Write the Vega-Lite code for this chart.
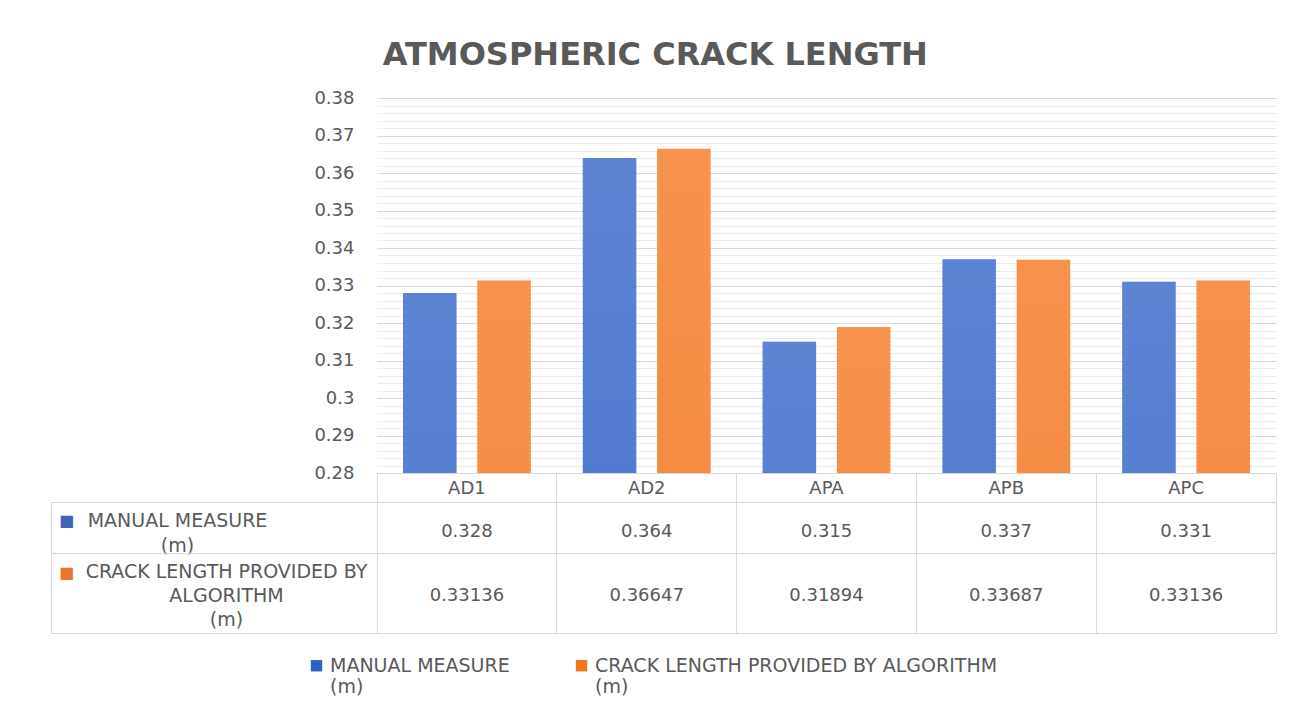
{
  "$schema": "https://vega.github.io/schema/vega-lite/v6.json",
  "padding": {"left": 50, "top": 39, "right": 30, "bottom": 5},
  "title": {
    "text": "ATMOSPHERIC CRACK LENGTH",
    "anchor": "middle",
    "frame": "bounds",
    "font": "DejaVu Sans",
    "fontSize": 32,
    "fontWeight": "bold",
    "color": "#595959",
    "offset": 17,
    "dx": -8
  },
  "data": {
    "values": [
      {"sample": "AD1", "series": "MANUAL MEASURE (m)", "value": 0.328},
      {"sample": "AD2", "series": "MANUAL MEASURE (m)", "value": 0.364},
      {"sample": "APA", "series": "MANUAL MEASURE (m)", "value": 0.315},
      {"sample": "APB", "series": "MANUAL MEASURE (m)", "value": 0.337},
      {"sample": "APC", "series": "MANUAL MEASURE (m)", "value": 0.331},
      {"sample": "AD1", "series": "CRACK LENGTH PROVIDED BY ALGORITHM (m)", "value": 0.33136},
      {"sample": "AD2", "series": "CRACK LENGTH PROVIDED BY ALGORITHM (m)", "value": 0.36647},
      {"sample": "APA", "series": "CRACK LENGTH PROVIDED BY ALGORITHM (m)", "value": 0.31894},
      {"sample": "APB", "series": "CRACK LENGTH PROVIDED BY ALGORITHM (m)", "value": 0.33687},
      {"sample": "APC", "series": "CRACK LENGTH PROVIDED BY ALGORITHM (m)", "value": 0.33136}
    ]
  },
  "bounds": "flush",
  "spacing": 29,
  "vconcat": [
    {
      "width": 899,
      "height": 375,
      "encoding": {
        "x": {
          "field": "sample", "type": "nominal",
          "scale": {"paddingInner": 0, "paddingOuter": 0},
          "axis": {
            "title": null, "domain": false, "labelAngle": 0,
            "ticks": true, "tickSize": 29, "tickColor": "#d9d9d9", "bandPosition": 1, "tickExtra": true,
            "labelExpr": "isValid(datum.extra) ? '' : datum.label",
            "labelBaseline": "middle", "labelPadding": -14,
            "labelFont": "DejaVu Sans", "labelFontSize": 18, "labelColor": "#595959"
          }
        },
        "xOffset": {
          "field": "series", "type": "nominal",
          "sort": ["MANUAL MEASURE (m)", "CRACK LENGTH PROVIDED BY ALGORITHM (m)"],
          "scale": {"paddingInner": 0.28, "paddingOuter": 0.35}
        },
        "y": {
          "field": "value", "type": "quantitative",
          "scale": {"domain": [0.28, 0.38], "nice": false, "zero": false},
          "axis": {
            "title": null, "domain": false, "ticks": false, "tickCount": 50,
            "labelOverlap": false, "labelBound": false,
            "labelExpr": "abs(datum.value*100 - round(datum.value*100)) < 0.000001 ? toString(round(datum.value*100)/100) : ''",
            "labelPadding": 23, "labelFont": "DejaVu Sans", "labelFontSize": 18, "labelColor": "#595959",
            "grid": true,
            "gridColor": {"condition": {"test": "abs(datum.value*100 - round(datum.value*100)) < 0.000001", "value": "#d9d9d9"}, "value": "#ebebeb"}
          }
        }
      },
      "layer": [
        {
          "mark": {"type": "bar", "clip": true},
          "encoding": {
            "color": {
              "field": "series", "type": "nominal",
              "sort": ["MANUAL MEASURE (m)", "CRACK LENGTH PROVIDED BY ALGORITHM (m)"],
              "scale": {
                "domain": ["MANUAL MEASURE (m)", "CRACK LENGTH PROVIDED BY ALGORITHM (m)"],
                "range": ["#2f60c6", "#f4741c"]
              },
              "legend": {
                "orient": "none", "legendX": -70, "legendY": 558,
                "direction": "horizontal", "title": null,
                "symbolType": "square", "symbolSize": 130, "symbolStrokeWidth": 0,
                "labelExpr": "datum.value == 'MANUAL MEASURE (m)' ? ['MANUAL MEASURE','(m)'] : ['CRACK LENGTH PROVIDED BY ALGORITHM','(m)']",
                "labelBaseline": "middle", "labelLimit": 0, "labelLineHeight": 24,
                "labelFont": "DejaVu Sans", "labelFontSize": 19, "labelColor": "#595959",
                "labelOffset": 4, "columnPadding": 62
              }
            }
          }
        },
        {
          "mark": {
            "type": "bar", "clip": true,
            "fill": {"gradient": "linear", "x1": 0, "y1": 0, "x2": 0, "y2": 1, "stops": [{"offset": 0, "color": "rgba(255,255,255,0.22)"}, {"offset": 1, "color": "rgba(255,255,255,0)"}]}
          }
        }
      ]
    },
    {
      "bounds": "flush",
      "spacing": 0,
      "vconcat": [
        {
          "width": 899,
          "height": 51,
          "view": {"stroke": "#d9d9d9"},
          "transform": [{"filter": "datum.series == 'MANUAL MEASURE (m)'"}],
          "mark": {"type": "text", "font": "DejaVu Sans", "fontSize": 18, "color": "#595959", "dy": 4},
          "encoding": {
            "x": {
              "field": "sample", "type": "nominal",
              "scale": {"type": "band", "paddingInner": 0, "paddingOuter": 0},
              "axis": {"title": null, "grid": true, "gridColor": "#d9d9d9", "bandPosition": 0, "domain": false, "ticks": false, "labels": false}
            },
            "y": {
              "field": "series", "type": "nominal",
              "scale": {"type": "band", "paddingInner": 0, "paddingOuter": 0},
              "axis": {
                "orient": "left", "offset": 326, "grid": false,
                "domain": true, "domainColor": "#d9d9d9",
                "ticks": true, "tickSize": -326, "tickColor": "#d9d9d9", "bandPosition": 1, "tickExtra": true,
                "labelExpr": "isValid(datum.extra) ? '' : ['MANUAL MEASURE','(m)']",
                "labelAlign": "center", "labelBaseline": "middle", "labelPadding": 200, "labelOffset": -7,
                "labelLimit": 0, "labelLineHeight": 25,
                "labelFont": "DejaVu Sans", "labelFontSize": 19, "labelColor": "#595959",
                "title": "■", "titleAngle": 0, "titleX": 15, "titleY": 18, "titleAlign": "center", "titleBaseline": "middle",
                "titleColor": "#3f63b8", "titleFont": "DejaVu Sans", "titleFontSize": 16, "titleFontWeight": "normal"
              }
            },
            "text": {"field": "value", "type": "nominal"}
          }
        },
        {
          "width": 899,
          "height": 80,
          "view": {"stroke": "#d9d9d9"},
          "transform": [{"filter": "datum.series == 'CRACK LENGTH PROVIDED BY ALGORITHM (m)'"}],
          "mark": {"type": "text", "font": "DejaVu Sans", "fontSize": 18, "color": "#595959", "dy": 3},
          "encoding": {
            "x": {
              "field": "sample", "type": "nominal",
              "scale": {"type": "band", "paddingInner": 0, "paddingOuter": 0},
              "axis": {"title": null, "grid": true, "gridColor": "#d9d9d9", "bandPosition": 0, "domain": false, "ticks": false, "labels": false}
            },
            "y": {
              "field": "series", "type": "nominal",
              "scale": {"type": "band", "paddingInner": 0, "paddingOuter": 0},
              "axis": {
                "orient": "left", "offset": 326, "grid": false,
                "domain": true, "domainColor": "#d9d9d9",
                "ticks": true, "tickSize": -326, "tickColor": "#d9d9d9", "bandPosition": 1, "tickExtra": true,
                "labelExpr": "isValid(datum.extra) ? '' : ['CRACK LENGTH PROVIDED BY','ALGORITHM','(m)']",
                "labelAlign": "center", "labelBaseline": "middle", "labelPadding": 151, "labelOffset": -21,
                "labelLimit": 0, "labelLineHeight": 24,
                "labelFont": "DejaVu Sans", "labelFontSize": 19, "labelColor": "#595959",
                "title": "■", "titleAngle": 0, "titleX": 15, "titleY": 19, "titleAlign": "center", "titleBaseline": "middle",
                "titleColor": "#e5772f", "titleFont": "DejaVu Sans", "titleFontSize": 16, "titleFontWeight": "normal"
              }
            },
            "text": {"field": "value", "type": "nominal"}
          }
        }
      ]
    }
  ],
  "config": {
    "view": {"stroke": null},
    "font": "DejaVu Sans"
  }
}
